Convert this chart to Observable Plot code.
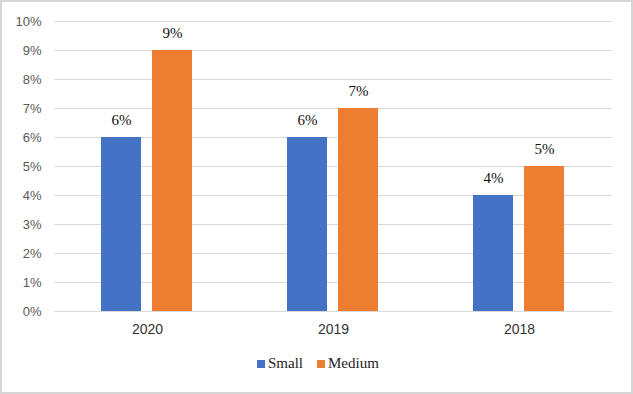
<!DOCTYPE html>
<html>
<head>
<meta charset="utf-8">
<script src="https://cdn.jsdelivr.net/npm/d3@7"></script>
<script src="https://cdn.jsdelivr.net/npm/@observablehq/plot@0.6"></script>
<style>
  html, body { margin: 0; padding: 0; background: #fff; }
  #wrap { position: relative; width: 633px; height: 394px; overflow: hidden; background: #fff; }
  #frame { position: absolute; left: 0; top: 0; width: 633px; height: 394px; box-sizing: border-box; border: 2px solid #d6d6d6; pointer-events: none; }
  #chart { position: absolute; left: 0; top: 0; }
  #legend { position: absolute; left: 257px; top: 355px; display: flex; align-items: center; font-family: "Liberation Serif", "Times New Roman", "DejaVu Serif", serif; font-size: 15px; color: #222; }
  .item { display: flex; align-items: center; margin-right: 14px; }
  .sw { width: 8px; height: 8px; margin-right: 3px; }
  .vlabel text { font-family: "Liberation Serif", "Times New Roman", "DejaVu Serif", serif !important; }
</style>
</head>
<body>
<div id="wrap">
  <div id="chart"></div>
  <div id="legend"></div>
  <div id="frame"></div>
</div>
<script>
const years = ["2020", "2019", "2018"];
const series = ["Small", "Medium"];
const smallValues = [6, 6, 4];
const mediumValues = [9, 7, 5];
const colors = ["#4472C4", "#ED7D31"];
const yTicks = [0, 1, 2, 3, 4, 5, 6, 7, 8, 9, 10];

const data = years.flatMap((year, i) => [
  {year, series: series[0], value: smallValues[i]},
  {year, series: series[1], value: mediumValues[i]}
]);

const chart = Plot.plot({
  width: 633,
  height: 345,
  marginLeft: 53,
  marginRight: 20,
  marginTop: 21,
  marginBottom: 34,
  fx: {domain: years, padding: 0, label: null},
  x: {domain: series, paddingInner: 0.21, paddingOuter: 0.9, axis: null},
  y: {domain: [0, 10], label: null},
  color: {domain: series, range: colors},
  marks: [
    Plot.gridY(yTicks, {stroke: "#d9d9d9", strokeOpacity: 1}),
    Plot.axisY({ticks: yTicks, tickSize: 0, tickPadding: 13, tickFormat: d => d + "%", fontSize: 13, fill: "#595959", fontFamily: "Liberation Sans, sans-serif", label: null}),
    Plot.axisFx({anchor: "bottom", tickSize: 0, tickPadding: 13, fontSize: 14, fill: "#333", fontFamily: "Liberation Sans, sans-serif", label: null}),
    Plot.barY(data, {fx: "year", x: "series", y: "value", fill: "series"}),
    Plot.text(data, {fx: "year", x: "series", y: "value", text: d => d.value + "%", dy: -17, fontSize: 15, className: "vlabel", fontFamily: "'Liberation Serif', serif", fill: "#111"})
  ]
});
document.getElementById("chart").appendChild(chart);

const legend = document.getElementById("legend");
series.forEach((s, i) => {
  const item = document.createElement("div");
  item.className = "item";
  const sw = document.createElement("span");
  sw.className = "sw";
  sw.style.background = colors[i];
  const label = document.createElement("span");
  label.textContent = s;
  item.appendChild(sw);
  item.appendChild(label);
  legend.appendChild(item);
});
</script>
</body>
</html>
